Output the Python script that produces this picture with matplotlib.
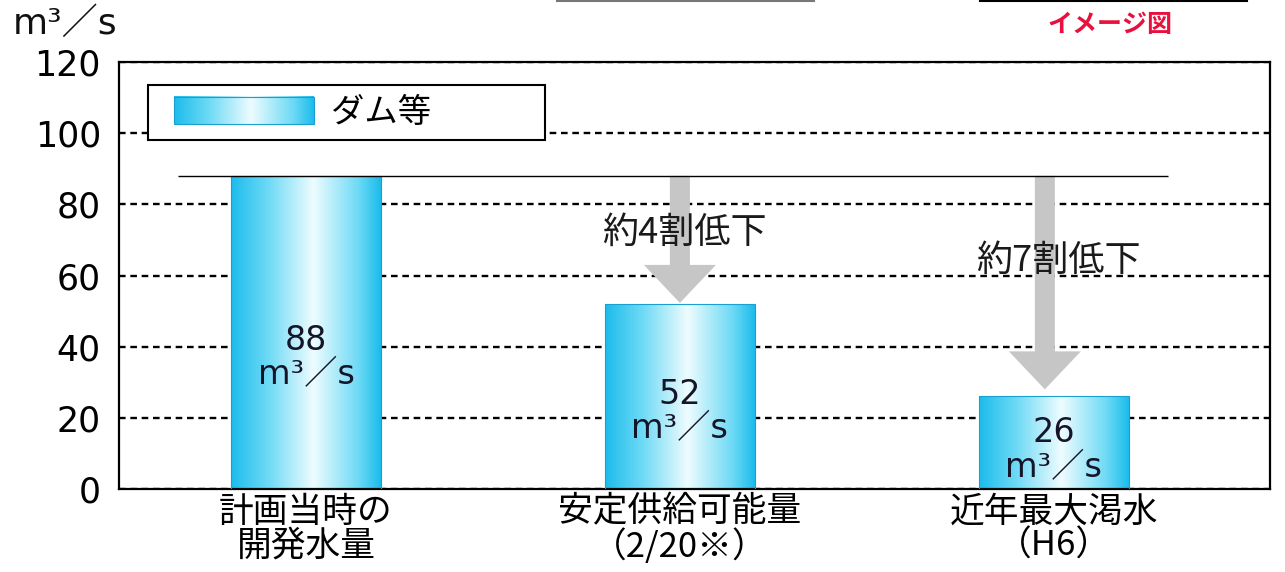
import numpy as np
import matplotlib
matplotlib.use("Agg")
import matplotlib.pyplot as plt
from matplotlib.patches import Rectangle
from matplotlib.lines import Line2D
from matplotlib.image import BboxImage
from matplotlib.transforms import Bbox, TransformedBbox
from matplotlib.legend_handler import HandlerBase

# ---- data ----
categories = ["計画当時の\n開発水量", "安定供給可能量\n（2/20※）", "近年最大渇水\n（H6）"]
values = [88, 52, 26]
unit = "m³／s"
drop_labels = ["", "約4割低下", "約7割低下"]
legend_label = "ダム等"
yticks = [0, 20, 40, 60, 80, 100, 120]

# ---- styles ----
CJK = ["Noto Sans CJK JP", "DejaVu Sans"]
NUM = ["DejaVu Sans", "Noto Sans CJK JP"]
EDGE = "#1a9fd0"
ARROW = "#c6c6c6"

# horizontal cyan -> white -> cyan gradient used for the bar fills
_xs = np.linspace(0, 1, 256)
_stops = [0.0, 0.25, 0.55, 0.85, 1.0]
_r = np.interp(_xs, _stops, [28, 110, 238, 110, 28])
_g = np.interp(_xs, _stops, [188, 218, 252, 218, 188])
_b = np.interp(_xs, _stops, [236, 245, 255, 245, 236])
gradient = (np.stack([_r, _g, _b], axis=-1) / 255.0)[None, :, :]


class GradientHandler(HandlerBase):
    """Legend key drawn as a gradient-filled box."""

    def create_artists(self, legend, orig_handle, xdescent, ydescent,
                       width, height, fontsize, trans):
        x0 = -xdescent + width * 0.103
        w = width * 0.897
        y0 = -ydescent
        h = height
        bb = TransformedBbox(Bbox.from_bounds(x0, y0, w, h), trans)
        img = BboxImage(bb, interpolation="bicubic")
        img.set_data(gradient)
        edge = Rectangle((x0, y0), w, h, fill=False, ec=EDGE, lw=0.8,
                         transform=trans)
        return [img, edge]


fig = plt.figure(figsize=(12.85, 5.72), dpi=100)
ax = fig.add_axes([0.0926, 0.1451, 0.8957, 0.7465])

x = np.arange(len(values))
bars = ax.bar(x, values, width=0.40, color="none", edgecolor=EDGE,
              linewidth=0.8, zorder=3, label=legend_label)
for b in bars:
    bx, by, bw, bh = b.get_x(), b.get_y(), b.get_width(), b.get_height()
    im = ax.imshow(gradient, extent=(bx, bx + bw, by, by + bh),
                   aspect="auto", interpolation="bicubic", zorder=2.5)
    im.set_clip_path(b)

# value labels inside the bars
for xi, v in zip(x, values):
    ax.text(xi, v * 0.42, f"{v}\n{unit}", ha="center", va="center",
            multialignment="center", fontsize=24, family=NUM,
            color="#15152a", linespacing=1.05, zorder=5)

# reference level of the planned volume
ax.hlines(values[0], -0.342, 2.305, color="black", lw=1.0, zorder=4)

# downward arrows showing the reduction, with their labels
arrow_x = [None, 1.0, 1.976]
arrow_gap = [0, 0.3, 2.0]
text_y = [None, 72, 64]
for i in range(1, len(values)):
    ax.annotate("", xy=(arrow_x[i], values[i] + arrow_gap[i]),
                xytext=(arrow_x[i], values[0]),
                arrowprops=dict(arrowstyle="simple,head_width=3.6,head_length=1.9,tail_width=1.0",
                                mutation_scale=14.4, color=ARROW, ec="none",
                                shrinkA=0, shrinkB=0),
                zorder=2)
    ax.text(x[i] + 0.012, text_y[i], drop_labels[i], ha="center", va="center",
            fontsize=26, family=CJK, color="#1a1a1a", zorder=6)

# axes, grid and ticks
ax.set_xlim(-0.5, 2.578)
ax.set_ylim(0, 120)
ax.set_yticks(yticks)
ax.set_yticklabels([str(t) for t in yticks], fontsize=25, family=NUM)
ax.set_xticks(x)
ax.set_xticklabels(categories, fontsize=25, family=CJK, linespacing=0.98)
ax.tick_params(axis="y", length=0, pad=13)
ax.tick_params(axis="x", length=0, pad=4)
ax.yaxis.grid(True, color="black", linestyle=(0, (2.8, 2.0)), lw=1.7)
ax.set_axisbelow(True)
for s in ax.spines.values():
    s.set_linewidth(1.6)
    s.set_color("black")

# legend
leg_w = 397 / 1151
leg_h = 53 / 427
leg = ax.legend(handles=[bars], labels=[legend_label],
                handler_map={type(bars): GradientHandler()},
                loc="upper left", bbox_to_anchor=(0.0252, 0.946 - leg_h, leg_w, leg_h),
                mode="expand", fancybox=False, framealpha=1, edgecolor="black",
                prop={"family": CJK, "size": 24}, borderpad=0.3,
                handlelength=4.68, handleheight=0.88, handletextpad=0.5,
                borderaxespad=0)
leg.get_frame().set_linewidth(1.5)
leg.set_zorder(10)

# unit label and caption
fig.text(0.010, 1 - 24 / 572, unit, fontsize=26, family=NUM, ha="left",
         va="center", color="#111111")
fig.text(1110 / 1285, 1 - 25 / 572, "イメージ図", fontsize=18, family=CJK,
         fontweight="bold", color="#e8103c", ha="center", va="center")

# rules along the top edge
fig.add_artist(Line2D([557 / 1285, 814 / 1285], [0.998, 0.998], color="#777777", lw=1.5))
fig.add_artist(Line2D([980 / 1285, 1247 / 1285], [0.998, 0.998], color="black", lw=1.5))

fig.savefig("out.png", dpi=100)
